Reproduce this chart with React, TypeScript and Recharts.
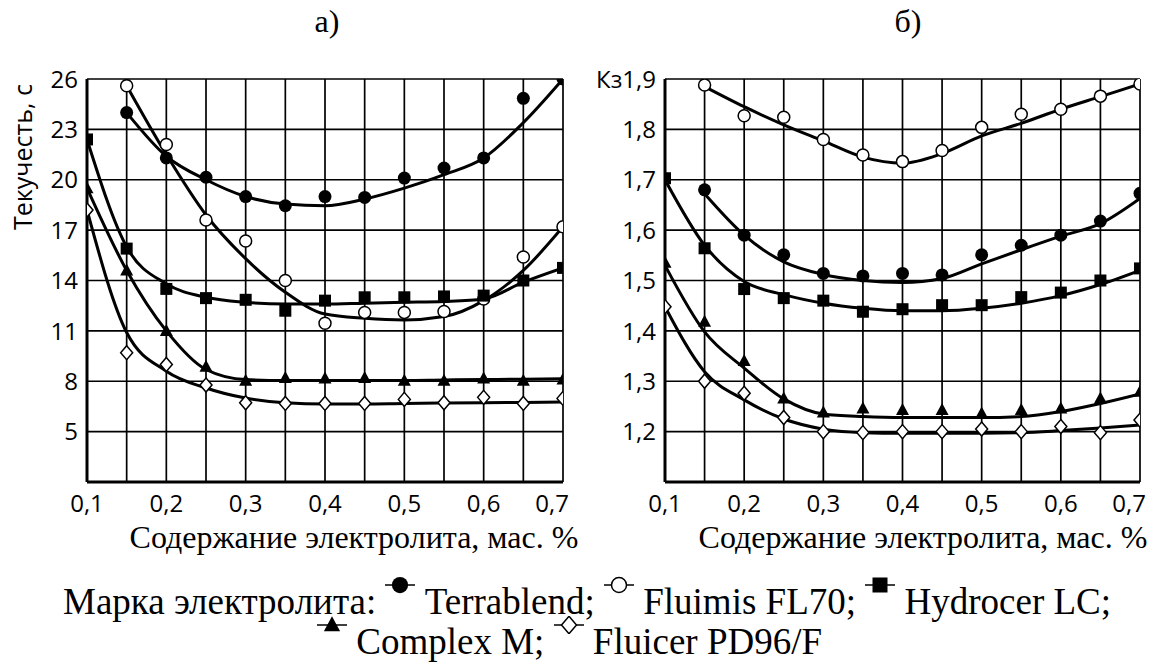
import React from "react";
import { ComposedChart, Line, Scatter, XAxis, YAxis, CartesianGrid } from "recharts";

// electrolyte content, mass %
const xValues = [0.1, 0.15, 0.2, 0.25, 0.3, 0.35, 0.4, 0.45, 0.5, 0.55, 0.6, 0.65, 0.7];

const seriesNames = ["Terrablend", "Fluimis FL70", "Hydrocer LC", "Complex M", "Fluicer PD96/F"];
const markerKinds = ["filledCircle", "openCircle", "square", "triangle", "diamond"];

// panel а) — fluidity, s
const leftTicks = [5, 8, 11, 14, 17, 20, 23, 26];
const terraA = [null, 24.0, 21.3, 20.15, 19.0, 18.45, 19.0, 18.95, 20.1, 20.7, 21.3, 24.85, 26.0];
const terraFitA = [null, 24.0, 21.4, 20.0, 19.0, 18.55, 18.45, 18.85, 19.5, 20.3, 21.3, 23.4, 26.0];
const fluimisA = [null, 25.6, 22.1, 17.6, 16.35, 14.0, 11.45, 12.1, 12.1, 12.15, 12.9, 15.4, 17.2];
const fluimisFitA = [null, 25.6, 21.5, 17.9, 15.3, 13.3, 12.0, 11.75, 11.65, 11.85, 12.8, 14.6, 17.2];
const hydroA = [22.4, 15.9, 13.5, 12.95, 12.85, 12.2, 12.8, 13.0, 13.0, 13.05, 13.1, 14.0, 14.75];
const hydroFitA = [22.4, 16.0, 13.8, 13.0, 12.7, 12.6, 12.6, 12.65, 12.7, 12.75, 12.9, 13.9, 14.75];
const complexA = [19.5, 14.6, 11.0, 8.87, 8.03, 8.2, 8.17, 8.2, 8.03, 8.03, 8.17, 8.03, 8.1];
const complexFitA = [19.5, 14.6, 11.0, 8.7, 8.1, 8.05, 8.05, 8.05, 8.05, 8.08, 8.1, 8.12, 8.15];
const fluicerA = [18.2, 9.7, 9.0, 7.77, 6.72, 6.68, 6.68, 6.68, 6.92, 6.72, 7.04, 6.68, 6.98];
const fluicerFitA = [18.2, 10.9, 8.6, 7.6, 7.0, 6.72, 6.65, 6.65, 6.68, 6.7, 6.72, 6.74, 6.76];

// panel б) — Кз
const rightTicks = [1.2, 1.3, 1.4, 1.5, 1.6, 1.7, 1.8, 1.9];
const terraB = [null, 1.68, 1.59, 1.551, 1.514, 1.509, 1.514, 1.511, 1.551, 1.57, 1.59, 1.618, 1.673];
const terraFitB = [null, 1.672, 1.59, 1.537, 1.512, 1.5, 1.496, 1.504, 1.533, 1.561, 1.588, 1.613, 1.663];
const fluimisB = [null, 1.888, 1.827, 1.824, 1.78, 1.749, 1.736, 1.758, 1.804, 1.83, 1.84, 1.866, 1.89];
const fluimisFitB = [null, 1.885, 1.845, 1.809, 1.777, 1.745, 1.733, 1.752, 1.787, 1.812, 1.84, 1.865, 1.89];
const hydroB = [1.703, 1.564, 1.483, 1.465, 1.46, 1.438, 1.443, 1.451, 1.451, 1.467, 1.476, 1.5, 1.524];
const hydroFitB = [1.7, 1.57, 1.498, 1.472, 1.455, 1.445, 1.44, 1.44, 1.445, 1.455, 1.47, 1.492, 1.52];
const complexB = [1.535, 1.418, 1.34, 1.266, 1.238, 1.246, 1.243, 1.243, 1.236, 1.243, 1.246, 1.266, 1.279];
const complexFitB = [1.53, 1.398, 1.326, 1.265, 1.235, 1.23, 1.228, 1.228, 1.228, 1.23, 1.24, 1.256, 1.275];
const fluicerB = [1.448, 1.3, 1.276, 1.228, 1.2, 1.198, 1.2, 1.2, 1.205, 1.2, 1.21, 1.198, 1.223];
const fluicerFitB = [1.448, 1.319, 1.263, 1.225, 1.205, 1.198, 1.197, 1.197, 1.197, 1.198, 1.202, 1.207, 1.213];

const toPoints = (vals: (number | null)[]) =>
  xValues.map((x, i) => ({ x, y: vals[i] })).filter((d) => d.y != null);

const fmt = (v: number) => v.toFixed(1).replace(".", ",");
const tickFont = "'Open Sans', sans-serif";
const serif = "'Liberation Serif', 'Times New Roman', serif";

function Marker({ kind, cx, cy, big }: { kind: string; cx: number; cy: number; big?: boolean }) {
  const s = big ? 1.25 : 1;
  switch (kind) {
    case "filledCircle":
      return <circle cx={cx} cy={cy} r={6.5 * s} fill="#000" />;
    case "openCircle":
      return <circle cx={cx} cy={cy} r={6 * s} fill="#fff" stroke="#000" strokeWidth={1.5} />;
    case "square":
      return <rect x={cx - 6 * s} y={cy - 6 * s} width={12 * s} height={12 * s} fill="#000" />;
    case "triangle":
      return (
        <polygon
          points={`${cx},${cy - 7 * s} ${cx - 6.5 * s},${cy + 5 * s} ${cx + 6.5 * s},${cy + 5 * s}`}
          fill="#000"
        />
      );
    default:
      return (
        <polygon
          points={`${cx},${cy - 7 * s} ${cx + 6 * s},${cy} ${cx},${cy + 7 * s} ${cx - 6 * s},${cy}`}
          fill="#fff"
          stroke="#000"
          strokeWidth={1.5}
        />
      );
  }
}

type Panel = {
  points: (number | null)[][];
  fits: (number | null)[][];
  domain: [number, number];
  ticks: number[];
  yLabel: (v: number) => string;
  width: number;
  marginLeft: number;
  marginRight: number;
};

function PanelChart({ points, fits, domain, ticks, yLabel, width, marginLeft, marginRight }: Panel) {
  const lastX = xValues[xValues.length - 1];
  return (
    <ComposedChart
      width={width}
      height={560}
      margin={{ top: 79, right: marginRight, bottom: 48, left: marginLeft }}
    >
      <CartesianGrid stroke="#000" strokeWidth={1.7} />
      <XAxis
        type="number"
        dataKey="x"
        domain={[0.1, 0.7]}
        ticks={xValues}
        interval={0}
        allowDataOverflow
        height={30}
        tickSize={0}
        tickMargin={0}
        axisLine={{ stroke: "#000", strokeWidth: 3 }}
        tick={(p: any) => {
          const v = p.payload.value;
          const show = Math.abs(v * 10 - Math.round(v * 10)) < 1e-6;
          const isLast = v === lastX;
          return (
            <text
              x={isLast ? p.x + 6 : p.x}
              y={p.y + 30}
              textAnchor={isLast ? "end" : "middle"}
              fontFamily={tickFont}
              fontSize={24}
              fill="#000"
            >
              {show ? fmt(v) : ""}
            </text>
          );
        }}
      />
      <YAxis
        type="number"
        domain={domain}
        ticks={ticks}
        interval={0}
        allowDataOverflow
        width={60}
        tickSize={0}
        tickMargin={0}
        axisLine={{ stroke: "#000", strokeWidth: 3 }}
        tick={(p: any) => (
          <text
            x={p.x - 9}
            y={p.y}
            dy="0.36em"
            textAnchor="end"
            fontFamily={tickFont}
            fontSize={24}
            fill="#000"
          >
            {yLabel(p.payload.value)}
          </text>
        )}
      />
      {fits.map((f, i) => (
        <Line
          key={"fit" + i}
          data={toPoints(f)}
          dataKey="y"
          type="monotone"
          stroke="#000"
          strokeWidth={3}
          dot={false}
          activeDot={false}
          isAnimationActive={false}
        />
      ))}
      {points.map((pts, i) => (
        <Scatter
          key={"pts" + i}
          name={seriesNames[i]}
          data={toPoints(pts)}
          dataKey="y"
          isAnimationActive={false}
          shape={(p: any) => <Marker kind={markerKinds[i]} cx={p.cx} cy={p.cy} />}
        />
      ))}
    </ComposedChart>
  );
}

function LegendIcon({ kind }: { kind: string }) {
  return (
    <svg width={30} height={18} style={{ position: "relative", top: -20 }}>
      <line x1={0} x2={30} y1={9} y2={9} stroke="#000" strokeWidth={1.5} />
      <Marker kind={kind} cx={15} cy={9} big />
    </svg>
  );
}

const legendLine: React.CSSProperties = {
  position: "absolute",
  fontFamily: serif,
  fontSize: 37,
  lineHeight: "40px",
  whiteSpace: "nowrap",
};

export default function App() {
  return (
    <div
      style={{
        position: "absolute",
        left: 0,
        top: 0,
        width: 1153,
        height: 662,
        background: "#fff",
        overflow: "hidden",
      }}
    >
      <div style={{ position: "absolute", left: 0, top: 0 }}>
        <PanelChart
          points={[terraA, fluimisA, hydroA, complexA, fluicerA]}
          fits={[terraFitA, fluimisFitA, hydroFitA, complexFitA, fluicerFitA]}
          domain={[2, 26]}
          ticks={leftTicks}
          yLabel={(v) => String(v)}
          width={580}
          marginLeft={27}
          marginRight={17}
        />
      </div>
      <div style={{ position: "absolute", left: 580, top: 0 }}>
        <PanelChart
          points={[terraB, fluimisB, hydroB, complexB, fluicerB]}
          fits={[terraFitB, fluimisFitB, hydroFitB, complexFitB, fluicerFitB]}
          domain={[1.1, 1.9]}
          ticks={rightTicks}
          yLabel={(v) => (v === 1.9 ? "Кз" : "") + fmt(v)}
          width={573}
          marginLeft={25}
          marginRight={13}
        />
      </div>
      <svg width={1153} height={662} style={{ position: "absolute", left: 0, top: 0, pointerEvents: "none" }}>
        <text x={327} y={32} textAnchor="middle" fontFamily={serif} fontSize={32}>а)</text>
        <text x={908} y={32} textAnchor="middle" fontFamily={serif} fontSize={32}>б)</text>
        <text transform="translate(32,157) rotate(-90)" textAnchor="middle" fontFamily={tickFont} fontSize={25}>
          Текучесть, с
        </text>
        <text x={354} y={548} textAnchor="middle" fontFamily={serif} fontSize={32}>
          Содержание электролита, мас. %
        </text>
        <text x={923} y={548} textAnchor="middle" fontFamily={serif} fontSize={32}>
          Содержание электролита, мас. %
        </text>
      </svg>
      <div style={{ ...legendLine, left: 63, top: 582 }}>
        Марка электролита: <LegendIcon kind={markerKinds[0]} /> {seriesNames[0]};{" "}
        <LegendIcon kind={markerKinds[1]} /> {seriesNames[1]}; <LegendIcon kind={markerKinds[2]} />{" "}
        {seriesNames[2]};
      </div>
      <div style={{ ...legendLine, left: 317, top: 622 }}>
        <LegendIcon kind={markerKinds[3]} /> {seriesNames[3]}; <LegendIcon kind={markerKinds[4]} />{" "}
        {seriesNames[4]}
      </div>
    </div>
  );
}
